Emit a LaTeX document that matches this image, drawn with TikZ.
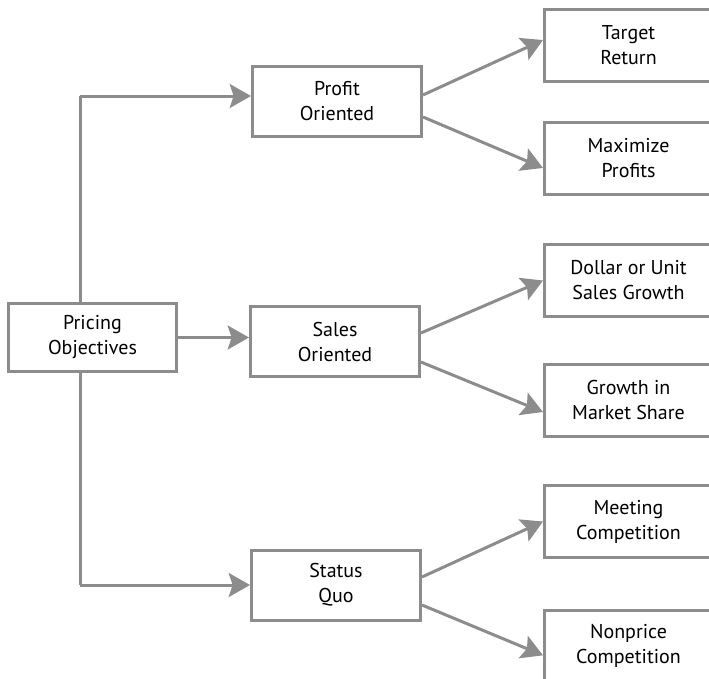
\documentclass[tikz,border=0pt]{standalone}
\usepackage{fontspec}
\setmainfont{PT Sans}
\usetikzlibrary{arrows.meta}

\definecolor{boxgray}{RGB}{140,140,140}

\tikzset{every picture/.style={line width=2.25pt}}
\tikzset{
  objbox/.style={draw=boxgray, fill=white, rectangle, align=center, inner sep=0pt,
    font=\fontsize{15pt}{18.75pt}\selectfont, text=black},
  midbox/.style={objbox, minimum width=126.75pt, minimum height=52.5pt},
  endbox/.style={objbox, minimum width=126pt, minimum height=54pt},
  link/.style={draw=boxgray},
  arr/.style={link, -{Stealth[length=16pt,width=18pt,inset=3pt]}}
}

\begin{document}
\begin{tikzpicture}[x=0.75pt,y=0.75pt,yscale=-1,xscale=1]
\useasboundingbox (0,0) rectangle (709,678);
% Root
\node[objbox, minimum width=126pt, minimum height=51pt] (obj) at (92.5,337.5) {Pricing\\Objectives};
% Middle column
\node[midbox] (prof) at (337,101.5) {Profit\\Oriented};
\node[midbox] (sales) at (335,341.5) {Sales\\Oriented};
\node[midbox] (quo) at (336,585) {Status\\Quo};
% Right column
\node[endbox] (ret) at (628.5,45.5) {Target\\Return};
\node[endbox] (max) at (628.5,158.5) {Maximize\\Profits};
\node[endbox] (dol) at (628.5,280.5) {Dollar or Unit\\Sales Growth};
\node[endbox] (share) at (628.5,400) {Growth in\\Market Share};
\node[endbox] (meet) at (628.5,521.5) {Meeting\\Competition};
\node[endbox] (nonp) at (628.5,646) {Nonprice\\Competition};

% Trunk
\coordinate (top) at (80,96);
\coordinate (bot) at (80,585);
\draw[link] (top) -- (obj.north -| top);
\draw[link] (obj.south -| top) -- (bot);
\draw[arr] (top) -- (top -| prof.west);
\draw[arr] (bot) -- (bot -| quo.west);
\draw[arr] (obj.east) -- (obj.east -| sales.west);

% Branches (yshift is flipped by yscale=-1)
\draw[arr] ([yshift=-4.9pt]prof.east) -- ([yshift=-4.1pt]ret.west);
\draw[arr] ([yshift=11.6pt]prof.east) -- ([yshift=7.1pt]max.west);
\draw[arr] ([yshift=-6.4pt]sales.east) -- ([yshift=0pt]dol.west);
\draw[arr] ([yshift=15.4pt]sales.east) -- ([yshift=9pt]share.west);
\draw[arr] ([yshift=-6pt]quo.east) -- ([yshift=0pt]meet.west);
\draw[arr] ([yshift=15pt]quo.east) -- ([yshift=7pt]nonp.west);
\end{tikzpicture}
\end{document}
